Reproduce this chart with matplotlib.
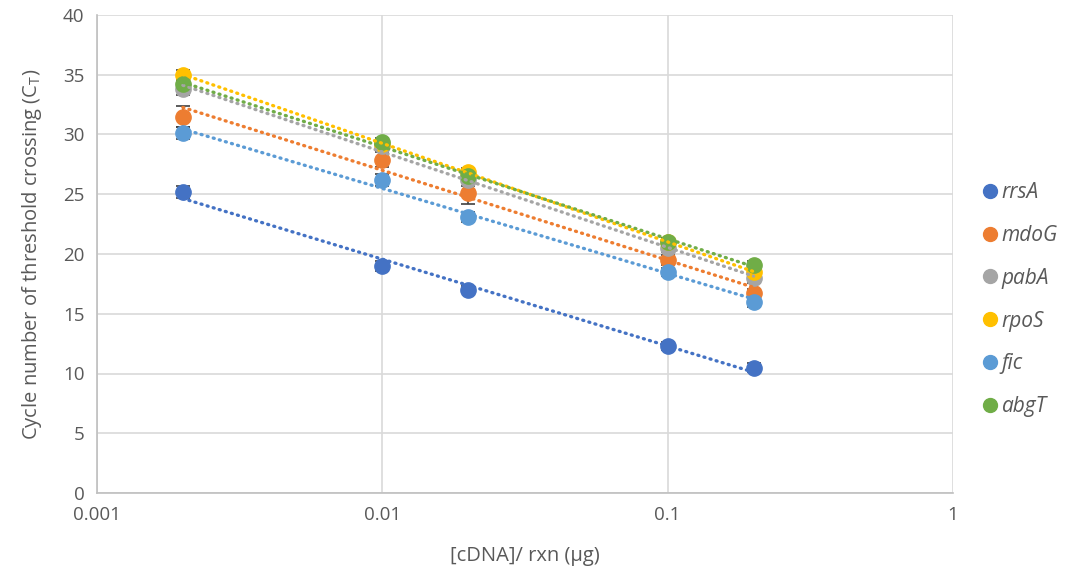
import numpy as np
import matplotlib.pyplot as plt

# cDNA amount per reaction (ug)
conc = [0.002, 0.01, 0.02, 0.1, 0.2]

genes = ['rrsA', 'mdoG', 'pabA', 'rpoS', 'fic', 'abgT']
colors = ['#4472C4', '#ED7D31', '#A5A5A5', '#FFC000', '#5B9BD5', '#70AD47']

rrsA = [25.2, 19.0, 17.0, 12.3, 10.5]
mdoG = [31.5, 27.9, 25.1, 19.5, 16.7]
pabA = [33.8, 29.0, 26.2, 20.5, 18.0]
rpoS = [35.0, 29.2, 26.9, 21.0, 18.5]
fic = [30.1, 26.2, 23.1, 18.5, 16.0]
abgT = [34.2, 29.4, 26.5, 21.0, 19.1]

rrsA_err = [0.5, 0.4, 0.3, 0.3, 0.4]
mdoG_err = [0.9, 0.6, 0.9, 0.4, 0.4]
pabA_err = [0.5, 0.4, 0.5, 0.3, 0.4]
rpoS_err = [0.4, 0.3, 0.3, 0.3, 0.3]
fic_err = [0.5, 0.5, 0.4, 0.3, 0.4]
abgT_err = [0.4, 0.3, 0.4, 0.3, 0.3]

values = [rrsA, mdoG, pabA, rpoS, fic, abgT]
errors = [rrsA_err, mdoG_err, pabA_err, rpoS_err, fic_err, abgT_err]

plt.rcParams['font.family'] = ['Open Sans', 'DejaVu Sans']
plt.rcParams['mathtext.fontset'] = 'custom'
plt.rcParams['mathtext.rm'] = 'Open Sans'

fig = plt.figure(figsize=(10.65, 5.78), dpi=100)
ax = fig.add_axes([97 / 1065, 1 - 493 / 578, (953 - 97) / 1065, (493 - 15) / 578])

x = np.array(conc)
for name, c, y, e in zip(genes, colors, values, errors):
    ax.errorbar(x, y, yerr=e, fmt='none', ecolor='#404040', elinewidth=1.2,
                capsize=5, capthick=1.2, zorder=2)
    ax.plot(x, y, 'o', color=c, markersize=11, zorder=3, label=name)

# logarithmic trend lines
for c, y in zip(colors, values):
    k, b = np.polyfit(np.log10(x), y, 1)
    ax.plot(x, k * np.log10(x) + b, color=c, lw=2.4,
            linestyle=(0, (0.3, 1.6)), dash_capstyle='round', zorder=4)

ax.set_xscale('log')
ax.set_xlim(0.001, 1)
ax.set_ylim(0, 40)
ax.set_yticks(range(0, 41, 5))
ax.set_xticks([0.001, 0.01, 0.1, 1])
ax.set_xticklabels(['0.001', '0.01', '0.1', '1'])
ax.minorticks_off()
ax.grid(True, color='#d9d9d9', lw=1.2)
ax.set_axisbelow(True)
for s in ['top', 'right']:
    ax.spines[s].set_visible(False)
for s in ['left', 'bottom']:
    ax.spines[s].set_color('#bfbfbf')
    ax.spines[s].set_linewidth(1.2)
ax.tick_params(length=0, labelsize=13.5, colors='#595959', pad=9)

ax.set_xlabel('[cDNA]/ rxn (µg)', fontsize=14.5, color='#595959', labelpad=16)
ax.set_ylabel('Cycle number of threshold crossing (C$_\\mathrm{T}$)',
              fontsize=14.5, color='#595959', labelpad=14)

handles = [plt.Line2D([], [], marker='o', ls='none', color=c, markersize=10) for c in colors]
leg = ax.legend(handles, genes, loc='upper left', bbox_to_anchor=(1.008, 0.69),
                frameon=False, handletextpad=0.0, labelspacing=1.05,
                prop={'style': 'italic', 'size': 15}, handlelength=1.1)
for t in leg.get_texts():
    t.set_color('#595959')

fig.savefig('out.png', dpi=100)
